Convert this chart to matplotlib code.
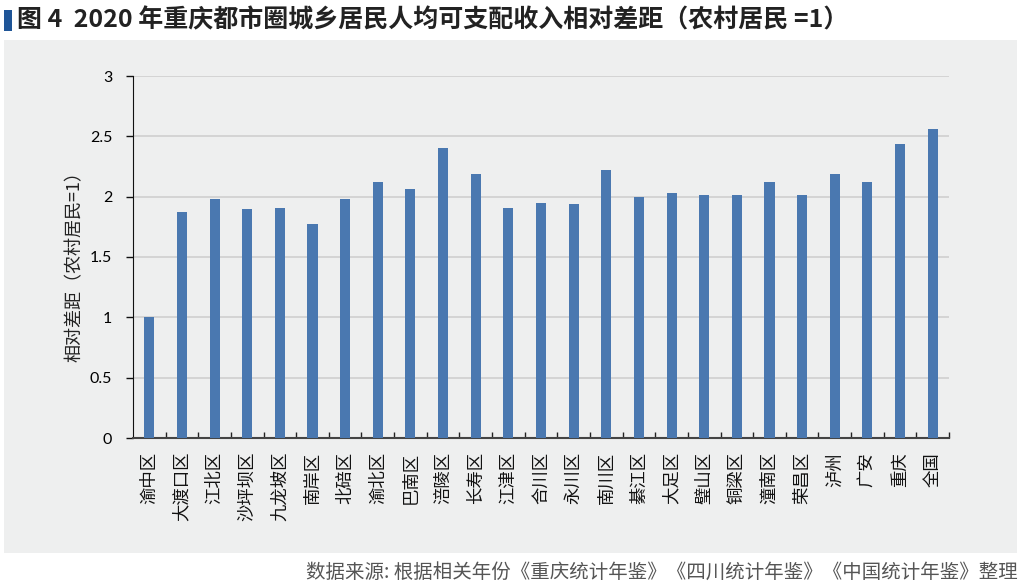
import matplotlib
matplotlib.use("Agg")
import numpy as np
from matplotlib import pyplot as plt
from matplotlib.patches import Rectangle

plt.rcParams['font.family'] = ['Noto Sans CJK SC', 'DejaVu Sans']

# 数据
regions = ["渝中区", "大渡口区", "江北区", "沙坪坝区", "九龙坡区", "南岸区", "北碚区",
           "渝北区", "巴南区", "涪陵区", "长寿区", "江津区", "合川区", "永川区", "南川区",
           "綦江区", "大足区", "璧山区", "铜梁区", "潼南区", "荣昌区", "泸州", "广安",
           "重庆", "全国"]
ratio = [1.00, 1.87, 1.98, 1.90, 1.91, 1.77, 1.98, 2.12, 2.06, 2.40, 2.19, 1.91, 1.95,
         1.94, 2.22, 2.00, 2.03, 2.01, 2.01, 2.12, 2.01, 2.19, 2.12, 2.44, 2.56]
yticks = [0, 0.5, 1, 1.5, 2, 2.5, 3]
ytick_labels = ["0", "0.5", "1", "1.5", "2", "2.5", "3"]

title = "图 4  2020 年重庆都市圈城乡居民人均可支配收入相对差距（农村居民 =1）"
ylabel = "相对差距（农村居民=1）"
source = "数据来源: 根据相关年份《重庆统计年鉴》《四川统计年鉴》《中国统计年鉴》整理"

W, H = 1024, 588
fig = plt.figure(figsize=(W / 100, H / 100), dpi=100, facecolor="white")

# 图表区背景
bg = Rectangle((4 / W, 1 - 553 / H), (1017 - 4) / W, (553 - 40) / H,
               transform=fig.transFigure, facecolor="#eeefef", edgecolor="none", zorder=-1)
fig.add_artist(bg)

ax = fig.add_axes([133 / W, 1 - 438 / H, (949 - 133) / W, (438 - 76) / H])
ax.set_zorder(1)
ax.set_facecolor("none")

x = np.arange(len(regions))
ax.bar(x, ratio, width=0.31, color="#4a78b0", zorder=3)

ax.set_xlim(-0.5, len(regions) - 0.5)
ax.set_ylim(0, 3)
ax.set_yticks(yticks)
ax.set_yticklabels(ytick_labels, family=["Lato", "DejaVu Sans"], fontsize=11.5)
ax.yaxis.grid(True, color="#d2d2d2", linewidth=1.3, zorder=0)
ax.set_axisbelow(True)

ax.set_xticks(x)
ax.set_xticklabels(regions, rotation=90, fontsize=12.5, color="#111111")
ax.set_xticks(np.arange(len(regions)) + 0.5, minor=True)
ax.tick_params(axis="x", which="major", length=0, pad=10)
ax.tick_params(axis="x", which="minor", direction="in", length=4, width=1, color="#222222")
ax.tick_params(axis="y", length=5, width=1, pad=10, color="#111111")

for s in ["top", "right"]:
    ax.spines[s].set_visible(False)
ax.spines["left"].set_color("#111111")
ax.spines["bottom"].set_color("#444444")
ax.spines["bottom"].set_linewidth(1.5)

fig.text(75 / W, 1 - 262 / H, ylabel, rotation=90, ha="center", va="center",
         fontsize=13, color="#222222")

# 标题
fig.add_artist(Rectangle((4 / W, 1 - 31 / H), 8 / W, 21 / H,
                         transform=fig.transFigure, facecolor="#1f5597", edgecolor="none"))
fig.text(17 / W, 1 - 20 / H, title, ha="left", va="center", fontsize=18,
         fontweight="bold", color="#222222")

fig.text(1018 / W, 1 - 572 / H, source, ha="right", va="center", fontsize=14,
         color="#555555")

fig.savefig("out.png", dpi=100, facecolor="white")
